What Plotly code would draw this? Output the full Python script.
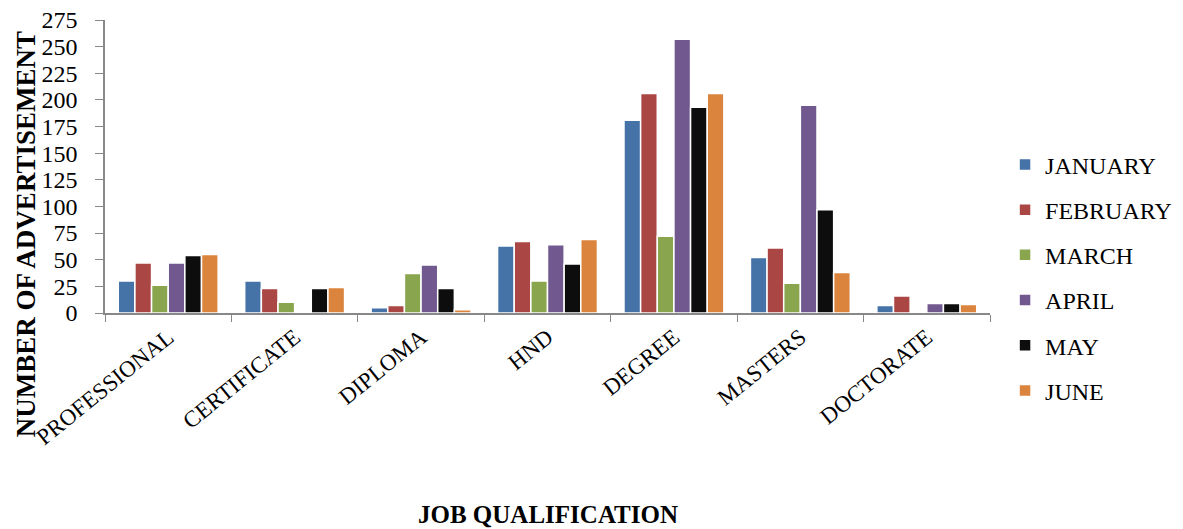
import plotly.graph_objects as go

categories = ["PROFESSIONAL", "CERTIFICATE", "DIPLOMA", "HND", "DEGREE", "MASTERS", "DOCTORATE"]
months = ["JANUARY", "FEBRUARY", "MARCH", "APRIL", "MAY", "JUNE"]
january = [30, 30, 5, 63, 181, 52, 7]
february = [47, 23, 7, 67, 206, 61, 16]
march = [26, 10, 37, 30, 72, 28, 0]
april = [47, 0, 45, 64, 257, 195, 9]
may = [54, 23, 23, 46, 193, 97, 9]
june = [55, 24, 3, 69, 206, 38, 8]
y_ticks = list(range(0, 276, 25))

series = [january, february, march, april, may, june]
colors = ["#4572A7", "#AA4643", "#89A54E", "#71588F", "#0D0D0D", "#DB843D"]

fig = go.Figure()
for name, vals, col in zip(months, series, colors):
    fig.add_trace(go.Bar(
        x=categories, y=vals, name=name, legendgroup=name,
        marker=dict(color=col, line=dict(color="white", width=1.5)),
    ))

font = "Liberation Serif, Times New Roman, serif"
fig.update_layout(
    width=1183, height=529,
    margin=dict(l=97, r=201, t=12, b=224, autoexpand=False),
    paper_bgcolor="white", plot_bgcolor="white",
    barmode="group", bargap=0.21, bargroupgap=0.0,
    font=dict(family=font, size=22, color="black"),
    showlegend=True,
    legend=dict(x=1.017, xanchor="left", y=0.12, yanchor="middle",
                font=dict(family=font, size=24), tracegroupgap=11,
                traceorder="grouped", itemwidth=30),
    xaxis=dict(
        automargin=False,
        showline=True, linecolor="#888888", linewidth=1.5,
        ticks="outside", ticklen=7, tickcolor="#888888", tickson="boundaries",
        tickangle=-39, tickfont=dict(family=font, size=23),
    ),
    yaxis=dict(
        automargin=False,
        range=[0, 275], tickvals=y_ticks, showgrid=False, zeroline=False,
        showline=True, linecolor="#888888", linewidth=1.5,
        ticks="outside", ticklen=8, tickcolor="#888888",
        ticklabelstandoff=13, ticklabeloverflow="allow",
        tickfont=dict(family=font, size=24),
    ),
    annotations=[
        dict(text="<b>NUMBER OF ADVERTISEMENT</b>", textangle=-90,
             xref="paper", yref="paper", x=-0.089, y=0.27,
             xanchor="center", yanchor="middle", showarrow=False,
             font=dict(family=font, size=27, color="black")),
        dict(text="<b>JOB QUALIFICATION</b>",
             xref="paper", yref="paper", x=0.5006, y=-0.689,
             xanchor="center", yanchor="middle", showarrow=False,
             font=dict(family=font, size=25, color="black")),
    ],
)

fig.write_html("out.html")
